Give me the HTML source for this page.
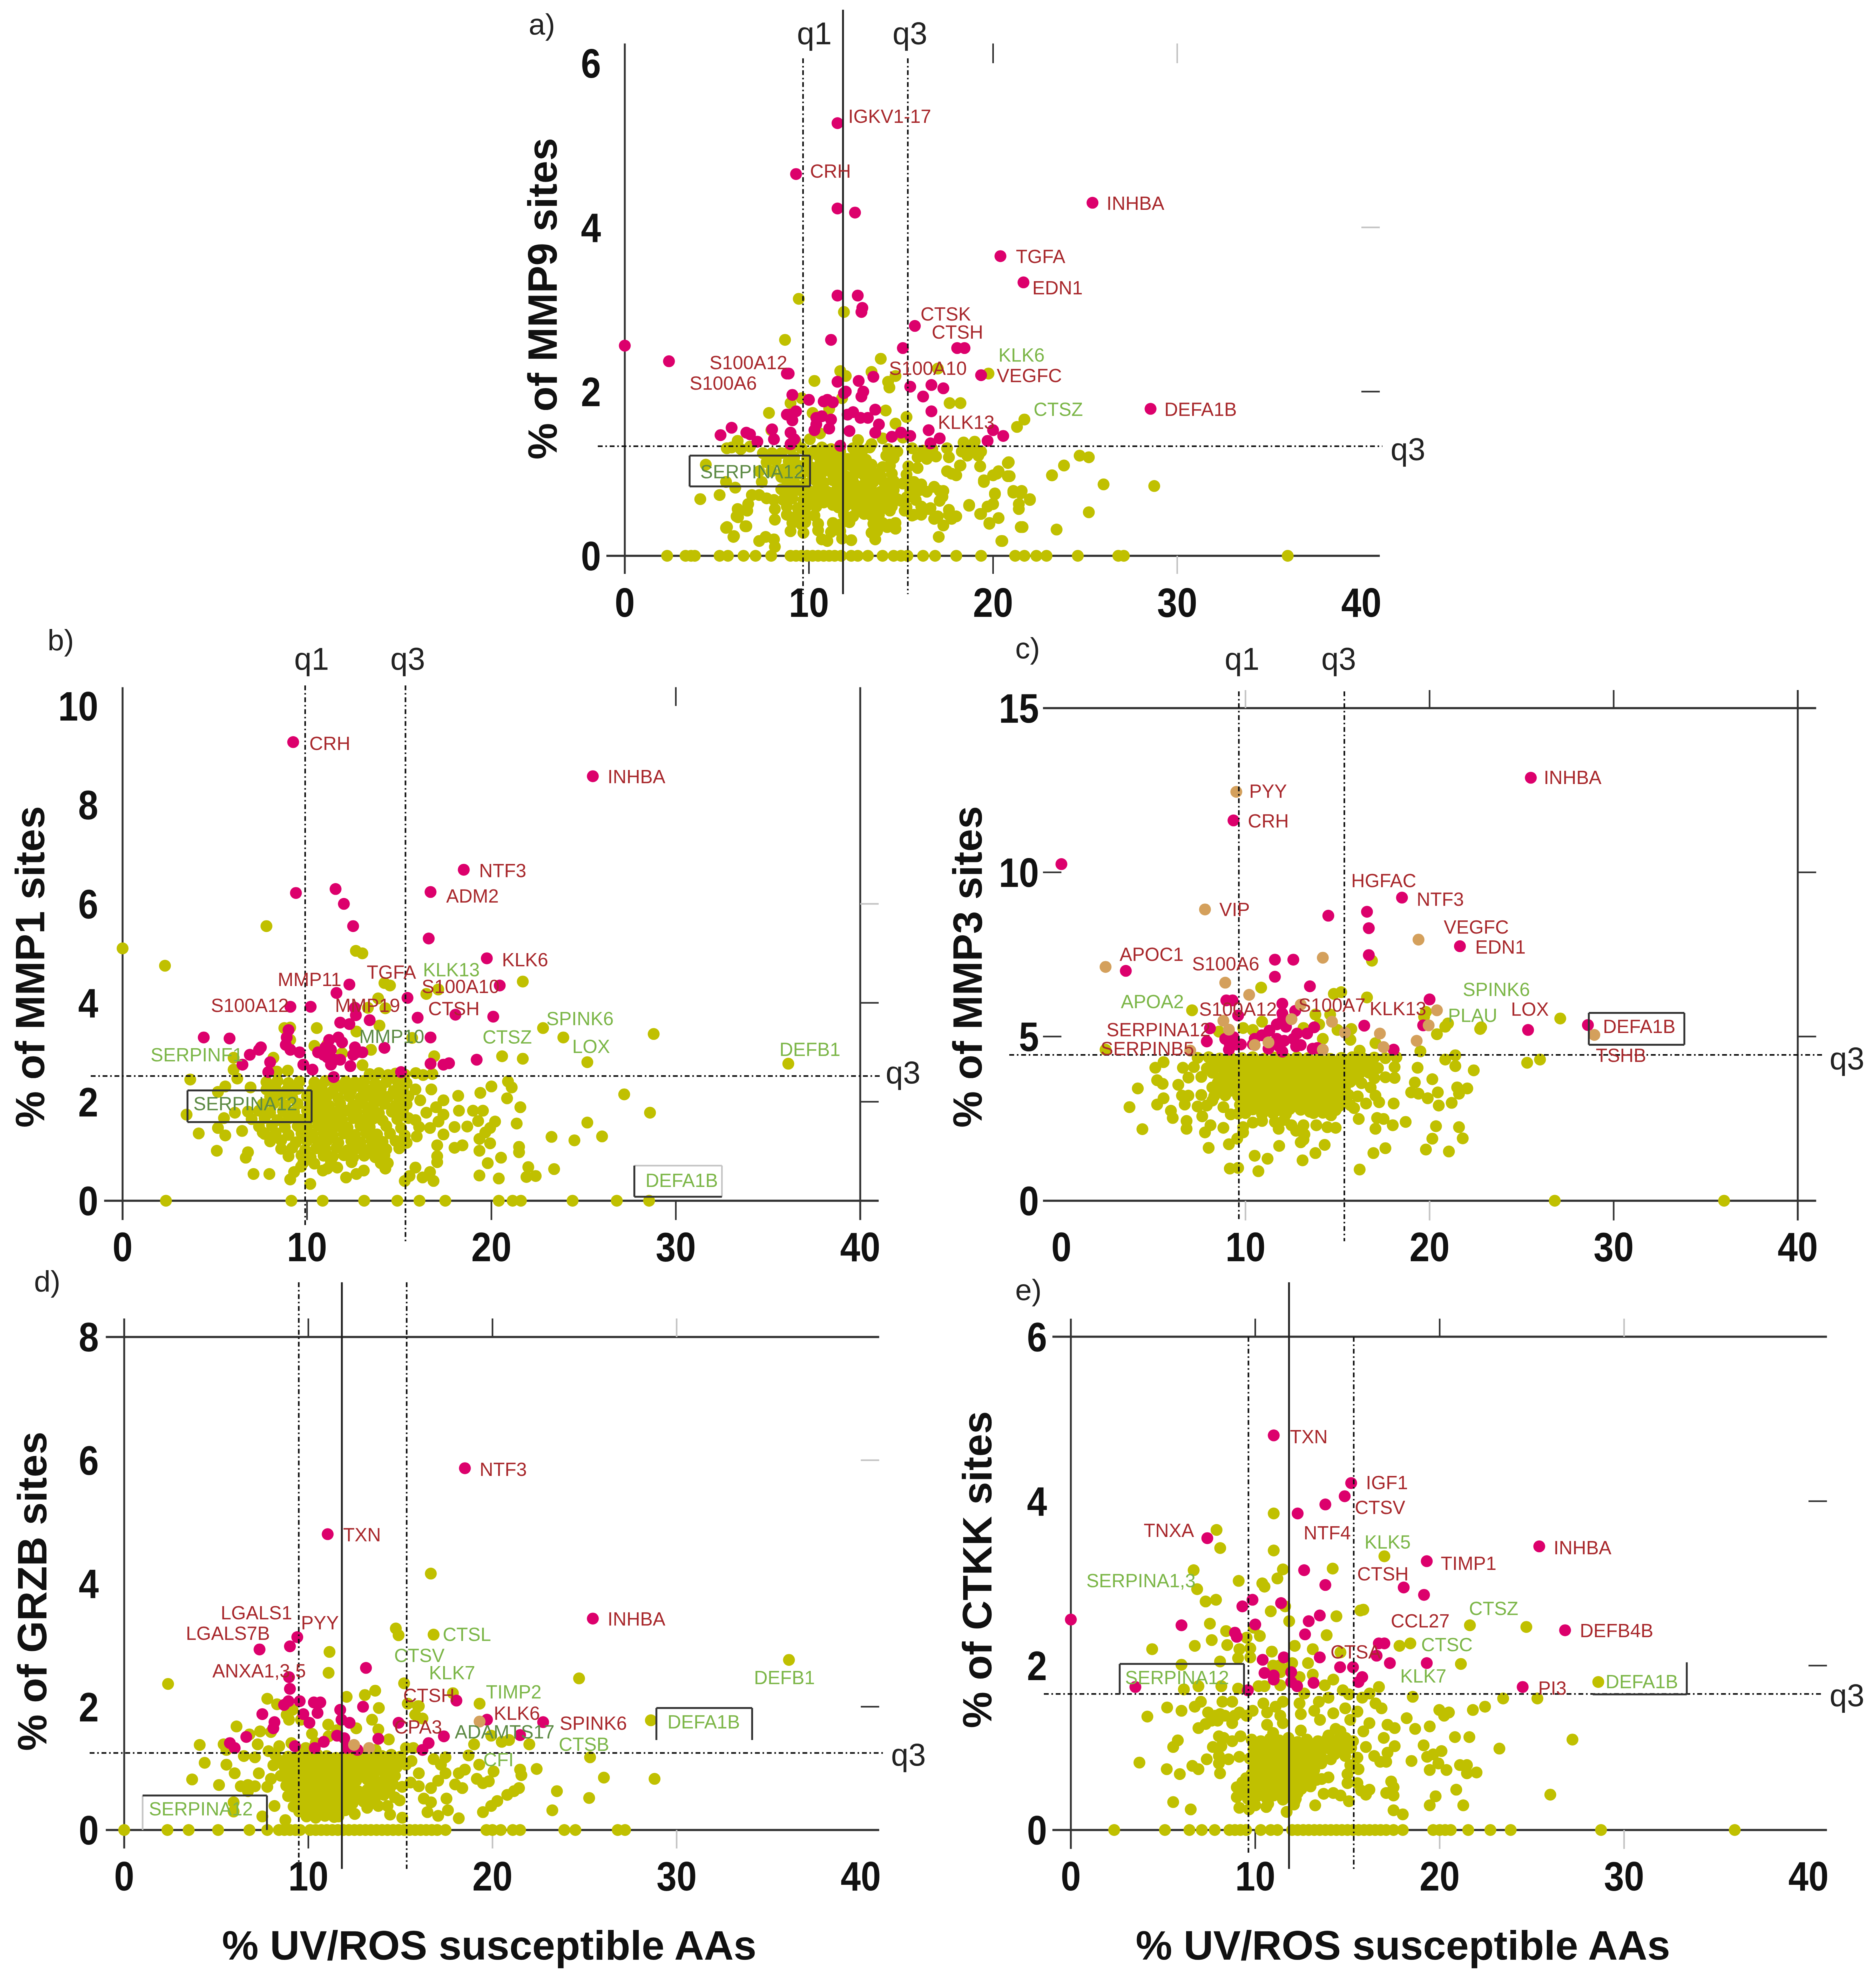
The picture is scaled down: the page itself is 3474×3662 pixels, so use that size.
<!DOCTYPE html>
<html lang="en">
<head>
<meta charset="utf-8">
<title>Protease site scatter panels</title>
<style>
html,body{margin:0;padding:0;background:#fff;width:3474px;height:3662px;overflow:hidden}
svg{display:block;filter:blur(0.9px)}
text{font-family:"Liberation Sans",sans-serif}
.title{font-weight:bold;font-size:76px;fill:#111}
.q{font-size:58px;fill:#222}
.letter{font-size:55px;fill:#222}
</style>
</head>
<body>
<svg id="figure" xmlns="http://www.w3.org/2000/svg" width="3474" height="3662" viewBox="0 0 3474 3662">
  <rect width="3474" height="3662" fill="#fff"/>
  <g id="panels"></g>
  <text class="letter" x="979" y="64">a)</text>
  <text class="letter" x="88" y="1204">b)</text>
  <text class="letter" x="1880" y="1219">c)</text>
  <text class="letter" x="63" y="2391">d)</text>
  <text class="letter" x="1880" y="2407">e)</text>
  <text class="title" transform="translate(1031,553) rotate(-90)" text-anchor="middle">% of MMP9 sites</text>
  <text class="title" transform="translate(82,1790) rotate(-90)" text-anchor="middle">% of MMP1 sites</text>
  <text class="title" transform="translate(1818,1790) rotate(-90)" text-anchor="middle">% of MMP3 sites</text>
  <text class="title" transform="translate(86,2946) rotate(-90)" text-anchor="middle">% of GRZB sites</text>
  <text class="title" transform="translate(1836,2906) rotate(-90)" text-anchor="middle">% of CTKK sites</text>
  <text class="title" x="906" y="3628" text-anchor="middle">% UV/ROS susceptible AAs</text>
  <text class="title" x="2598" y="3628" text-anchor="middle">% UV/ROS susceptible AAs</text>
  <text class="q" x="1508" y="82" text-anchor="middle">q1</text>
  <text class="q" x="1685" y="82" text-anchor="middle">q3</text>
  <text class="q" x="2575" y="852">q3</text>
  <text class="q" x="577" y="1240" text-anchor="middle">q1</text>
  <text class="q" x="755" y="1240" text-anchor="middle">q3</text>
  <text class="q" x="1640" y="2006">q3</text>
  <text class="q" x="2300" y="1240" text-anchor="middle">q1</text>
  <text class="q" x="2479" y="1240" text-anchor="middle">q3</text>
  <text class="q" x="3388" y="1980">q3</text>
  <text class="q" x="1650" y="3269">q3</text>
  <text class="q" x="3388" y="3159">q3</text>
</svg>
<script>
const xTickLabels = [0,10,20,30,40];
const aYTickLabels = [0,2,4,6];
const bYTickLabels = [0,2,4,6,8,10];
const cYTickLabels = [0,5,10,15];
const dYTickLabels = [0,2,4,6,8];
const eYTickLabels = [0,2,4,6];

const aZeroX = [2.3,3.3,3.6,3.8,5.15,5.6,6.45,7.1,7.95,9,9.3,9.6,9.9,10.2,10.5,10.8,11.1,11.4,11.75,12.3,12.65,13.2,14,14.6,15,15.35,16.2,16.85,18,19.35,21.2,21.7,22.35,22.9,24.6,26.8,27.1,36];
const bZeroX = [2.35,9.15,10.85,13.1,14.9,16.1,17.5,20.4,21.15,21.6,24.4,26.8,28.55];
const cZeroX = [26.8,36];
const dZeroX = [0,2.35,3.5,5.1,6.8,7.77,8.4,8.7,9,9.3,9.55,10.1,10.4,10.7,11,11.3,11.6,11.9,12.2,12.5,12.8,13.1,13.4,13.7,14,14.3,14.6,14.9,15.2,15.5,15.8,16.1,16.4,16.7,17,17.45,19.67,20,20.45,21.1,21.5,23.9,24.5,26.8,27.2];
const eZeroX = [2.35,5.1,6.43,7.1,7.8,8.6,8.9,9.2,9.5,10.3,10.84,11.2,12,12.3,12.6,12.9,13.2,13.5,13.8,14.1,14.4,14.7,15,15.3,15.6,15.9,16.2,16.5,16.8,17.1,17.5,18,19.65,20,20.3,20.6,21.55,22.75,23.85,28.75,36];

const aPink = [[0,2.56],[2.4,2.37],[11.55,5.27],[9.3,4.65],[11.55,4.23],[12.5,4.18],[25.4,4.3],[20.4,3.65],[21.65,3.33],[11.55,3.17],[12.65,3.17],[12.9,3.02],[12.85,2.97],[11.2,2.63],[15.75,2.8],[15.1,2.53],[18.05,2.53],[18.45,2.53],[19.35,2.2],[28.55,1.79],[8.9,2.22],[8.8,2.22],[13.5,2.18],[11.55,2.12],[12.7,2.13],[15.5,2.06],[16.65,2.08],[17.3,2.04],[12,2],[11.9,1.98],[12.95,2],[12.85,1.94],[16.2,1.94],[9.1,1.96],[10,1.9],[11,1.9],[10.8,1.88],[11.3,1.87],[16.65,1.76],[9,1.72],[8.8,1.72],[9.1,1.65],[9.3,1.76],[10.7,1.7],[10.4,1.68],[11.2,1.66],[10.4,1.6],[12.1,1.72],[12.4,1.75],[12.8,1.68],[13.2,1.68],[13.6,1.78],[13.8,1.6],[10.3,1.53],[11.1,1.55],[12.2,1.52],[13.6,1.5],[16.5,1.53],[20,1.53],[20.55,1.46],[5.2,1.47],[5.8,1.56],[6.6,1.5],[6.8,1.48],[7.2,1.39],[8,1.54],[8.1,1.42],[9,1.5],[9.2,1.42],[9,1.36],[14.5,1.45],[15,1.5],[15.5,1.46],[16.6,1.37],[17.1,1.43],[19.7,1.4],[11.7,1.34]];
const aYellow = [[9.45,3.13],[11.9,2.97],[8.7,2.63],[13.9,2.4],[17,2.28],[19.75,2.22],[11.7,2.25],[12,2.19],[13.4,2.24],[14.3,2.12],[14.7,2.19],[14.37,2.05],[10.3,2.13],[17.64,1.86],[18.23,1.86],[9.6,1.92],[11.8,1.92],[9,1.86],[7.83,1.74],[10.2,1.74],[11.1,1.79],[14.17,1.77],[15.3,1.69],[14.7,1.61],[21.7,1.66],[21.3,1.57],[7.96,1.53],[10.6,1.49],[10.05,1.42],[9.27,1.4],[14,1.43],[15.1,1.44],[12.67,1.41],[13.4,1.36],[18.4,1.38],[19,1.39],[5.54,1.31],[6.13,1.4],[5.8,1.32],[6.8,1.33],
[25.2,1.2],[24.7,1.22],[23.85,1.1],[23.2,.98],[26,.87],[28.75,.85],[20.8,1.13],[20.8,.97],[20.2,1],[19.5,.9],[25.2,.53],[23.45,.32],[20.5,.18],[21.5,.35],[22,.68],[21.1,.77],[21.5,.76],[21.4,.57],[20.1,.75],[20,.63],[19.3,.51],[19.8,.39],[20.3,.46],[18.7,.62],[18.2,1.1],[17.5,1.03],[17.75,1],[19.3,1.09],[19.2,1.22],[19.35,1.27],[18.55,1.29],[17.05,.23],[17.3,.37],[17.75,.45],[17.3,.79],[16.8,.84],[17.1,.67],[16.5,.57],[16.8,.45],[15.7,.5],[15.2,.55],[15,.67],[14.4,.55],[14.7,.33],[14.25,.35],[4.1,.69],[5.15,.74],[5.5,.34],[5.9,.23],[6.55,.36],[6.15,.47],[7.3,.18],[7.65,.23],[8.15,.11],[8.1,.2],[4.4,1.11],[5.5,.9],[6,.83],[6.9,.74],[7.3,.74],[6.7,.63],[6.13,.57],[6.07,.48],[6.65,.55],[7.7,.7],[8.1,.68],[8.15,.57],[8.15,.44],[6.6,.36],[5.55,.35],[5.93,.24],
[8.2,1.16],[7.7,1.14],[7.3,1.03],[7.96,1.03],[8.5,.96],[7.44,.9],[8.5,.81],[8.75,.76],
[9,1.3],[9.6,1.31],[10.3,1.28],[10.7,1.32],[11.2,1.3],[11.7,1.27],[12.4,1.31],[12.9,1.28],[13.3,1.32],[14.3,1.3],[14.8,1.27],[15.6,1.31],[16.2,1.28],[16.7,1.3],[17.5,1.31],[18.3,1.27],[18.9,1.3],
[9.2,1.2],[9.9,1.18],[10.5,1.22],[11,1.19],[11.5,1.21],[12.1,1.18],[12.6,1.2],[13.1,1.17],[14.2,1.22],[14.6,1.19],[15.9,1.2],[16.4,1.18],[16.9,1.21],[17.6,1.2],[18.6,1.22],
[9.4,1.1],[10.1,1.08],[10.6,1.12],[11.1,1.09],[11.4,1.11],[11.8,1.07],[12.3,1.1],[12.8,1.08],[13.4,1.11],[14,1.08],[14.4,1.1],[15.4,1.09],[15.9,1.07],[18.23,1.1],[19.3,1.09],[20.85,1.14],
[9.6,1],[10.2,.98],[10.7,1.01],[11.3,.99],[11.6,1.02],[12,.97],[12.5,1],[13,.98],[13.5,1.01],[13.9,.97],[14.5,1],[15.3,.99],[18,.98],[20.3,1.03],[20,.98],[20.9,.97],[23.2,.98],
[9.2,.9],[9.8,.88],[10.4,.91],[10.8,.89],[11.3,.92],[11.9,.88],[12.4,.9],[13,.87],[13.5,.9],[14.1,.89],[14.6,.91],[15.1,.88],[15.7,.9],[16.1,.87],[19.5,.92],
[9.5,.8],[10,.79],[10.5,.82],[11,.78],[11.5,.8],[12,.78],[12.3,.81],[12.9,.79],[13.4,.8],[13.9,.78],[14.3,.81],[15.5,.79],[16,.8],[16.4,.78],[17.1,.79],[17.25,.72],[20.1,.76],[21.1,.79],[21.55,.79],[22,.69],[21.4,.63],
[9.1,.7],[9.7,.68],[10.2,.71],[10.6,.69],[11.1,.7],[11.6,.68],[12.2,.71],[12.7,.69],[13.2,.7],[13.7,.68],[14.3,.7],[14.8,.69],[15.3,.71],[15.8,.68],[18.7,.61],[20,.63],[19.7,.6],
[8.8,.6],[9.4,.58],[9.9,.61],[10.4,.6],[11.6,.59],[12,.61],[12.6,.58],[13.1,.6],[13.5,.61],[14,.58],[14.5,.6],[15.3,.59],[16.1,.6],[16.6,.58],[17.6,.56],
[8.8,.5],[9.3,.48],[9.8,.51],[10.3,.49],[11.9,.5],[12.4,.48],[13,.51],[13.4,.49],[13.8,.5],[15.6,.49],[16.1,.5],[17,.48],[17.6,.5],[18,.48],[19.35,.51],
[9.1,.4],[9.6,.38],[9.8,.41],[10.5,.39],[11.3,.4],[11.7,.38],[12.2,.41],[13.5,.39],[14,.4],[14.4,.38],[14.7,.4],[19.8,.4],[9,.3],[9.7,.28],[10.5,.31],[11.2,.29],[11.7,.3],[13.4,.28],[13.7,.3],[21.6,.35],[10.7,.2],[11,.18],[11.8,.21],[12.3,.19],[13.6,.2],[20.45,.18]];
const aYellowDense = [[8.5,1.25],[8.9,1.15],[8.6,1.05],[9,1.02],[8.8,.92],[9,.8],[8.6,.68],[10.1,1.25],[10.9,1.25],[11.5,1.14],[11.9,1.14],[12.4,1.19],[11.3,1.05],[11.7,.96],[12.2,.95],[12.7,1.05],[13.3,1.05],[13.7,.95],[13.2,.85],[12.6,.85],[11.7,.85],[10.7,.75],[11.3,.75],[11.8,.74],[12.4,.76],[13,.75],[13.6,.75],[14.1,.75],[14.6,.8],[9.8,.63],[10.3,.65],[10.8,.65],[11.3,.62],[12.3,.64],[12.8,.62],[13.3,.65],[13.8,.62],[9.4,.85],[9.8,1.05],[10.4,1.05],[7.5,1.25],[8,1.25],[6.3,1.3]];

const bPink = [[9.25,9.27],[25.5,8.58],[18.5,6.69],[9.4,6.22],[11.55,6.3],[12,6],[16.7,6.24],[12.5,5.55],[16.6,5.3],[19.75,4.9],[20.45,4.35],[12.3,4.37],[11.6,4.2],[15.45,4.1],[9.1,3.92],[10.2,3.92],[16,3.7],[12.6,3.9],[12.65,3.75],[18.05,3.76],[20.1,3.72],[13.4,3.65],[11.8,3.6],[12.3,3.57],[4.4,3.3],[5.8,3.28],[14.2,3.09],[16.7,3.3],[9,3.45],[8.9,3.3],[8.85,3.15],[9.1,3.05],[9.6,3],[7.5,3.1],[7.4,3.05],[6.9,2.95],[6.5,2.75],[8,2.8],[7.9,2.6],[9.8,2.75],[11.2,3.25],[11.7,3.3],[11.9,3.2],[11.3,3.05],[12.6,3.1],[12.7,3],[10.6,3],[11,3.1],[11.1,2.9],[11.5,2.85],[11.8,2.85],[12.35,2.72],[12.5,2.95],[13,3],[11.3,2.75],[10.9,2.95],[11.45,2.5],[16.7,2.77],[17.4,2.75],[17.7,2.78],[19.2,2.85],[15.1,2.6],[10.3,2.65]];
const bYellow = [[0,5.1],[2.3,4.75],[7.8,5.55],[12.65,5.05],[13,5],[21.7,4.43],[14.2,4.4],[14.5,4.35],[16.47,4.18],[17.12,4.27],[13.86,4.09],[14.25,3.89],[13.3,3.9],[22.8,3.49],[23.9,3.3],[28.8,3.37],[25.2,2.8],[36.1,2.77],[20.58,2.92],[21.7,2.87],[16.9,2.92],[15.7,3.29],[8.77,3.49],[9.09,3.5],[9.09,3.25],[10.53,3.49],[10.4,3.13],[11.1,3.16],[11.9,2.98],[12.68,3.42],[13.93,3.54],[13.47,3.05],[13.01,2.74],[6.02,2.89],[6.02,2.65],[6.22,2.47],[3.67,2.45],[8.18,2.89],[8.37,2.61],[8.96,2.63],[27.2,2.15],[28.6,1.78],[25.2,1.58],[26,1.3],[24.5,1.22],[23.26,1.29],[22,.68],[23.4,.64],[22.4,.5],[21.9,.48],
[3.47,1.74],[4.13,1.36],[5.11,1.01],[6.8,.98],[6.68,.87],[7.1,.54],[7.96,.54],[9.09,.43],[9.3,.58],[9.68,.69],[10.18,.34],[10.86,.61],[11.1,.65],[11.64,.67],[12.12,.47],[12.68,.54],[13.08,.61],[12.42,.78],[14.38,.76],[14.25,.65],[15.3,.4],[15.56,.5],[15.88,.67],[16.27,.47],[16.67,.58],[16.86,.4],[5.17,1.47],[5.57,1.32],[6.48,1.41],[7.6,1.38],[5.5,1.67],[6.09,1.78],[5.17,2.2],[5.57,2.31],[6.94,2.29],
[20.9,2.41],[21.1,2.29],[20,2.31],[19.4,2.18],[18.2,2.12],[20.85,2.07],[21.57,1.89],[21.37,1.56],[19.28,1.61],[20.2,1.6],[19.93,1.47],[19.67,1.38],[19.35,1.25],[19.93,1.16],[19.35,1.01],[21.5,1.09],[21.5,.98],[20.52,.87],[19.8,.76],[19.35,.51],[20.4,.45],[18.43,1.12],[18,1.07],[17.06,1.12],[17.06,.9],[17.06,.78],[18,1.49],[18.69,1.5],[17.4,1.74],[18.24,1.82],[19,1.82],[19.54,1.82],[16.67,1.47],[17.13,1.6],[17.4,1.34],[17.4,2.03],[17,1.89],[16.74,2.25],[15.88,2.25],[16.14,2.03],[16.47,1.78],[15.88,1.63],[15.95,1.3],[16.08,1.49],
[13.4,2.56],[13.9,2.58],[14.4,2.54],[14.8,2.57],[15.3,2.55],[15.9,2.58],[16.3,2.54],[16.8,2.56],
[7.8,2.4],[8.4,2.42],[9,2.38],[9.6,2.41],[10.4,2.39],[11,2.42],[11.5,2.38],[12.1,2.41],[12.6,2.39],[13.1,2.42],[13.7,2.37],[14.3,2.4],[14.9,2.42],[15.4,2.38],
[7.8,2.25],[8.3,2.27],[8.9,2.23],[9.5,2.26],[10.3,2.24],[10.8,2.27],[11.4,2.22],[12,2.26],[12.4,2.23],[13,2.27],[13.5,2.24],[14,2.26],[14.7,2.22],[15.2,2.25],
[8,2.1],[8.6,2.12],[9.2,2.08],[10,2.11],[10.6,2.09],[11.1,2.12],[11.7,2.07],[12.3,2.11],[12.9,2.08],[13.4,2.12],[13.9,2.09],[14.4,2.1],[15,2.07],[15.5,2.11],
[7.6,1.95],[8.2,1.97],[8.8,1.93],[9.5,1.96],[10.2,1.94],[10.7,1.97],[11.2,1.92],[11.8,1.96],[12.5,1.93],[13,1.97],[13.6,1.94],[14.2,1.96],[14.8,1.92],[15.4,1.95],
[6.8,1.8],[7.4,1.82],[8,1.78],[8.7,1.81],[9.3,1.79],[10,1.82],[10.5,1.77],[11,1.81],[11.6,1.78],[12.1,1.82],[12.7,1.79],[13.3,1.81],[13.9,1.77],[14.6,1.8],[15.2,1.82],
[7,1.65],[7.7,1.67],[8.4,1.63],[9,1.66],[9.6,1.64],[10.2,1.67],[10.8,1.62],[11.3,1.66],[11.9,1.63],[12.5,1.67],[13.1,1.64],[13.6,1.66],[14.1,1.62],[14.9,1.65],[15.5,1.67],
[7.4,1.5],[8.1,1.52],[8.8,1.48],[9.5,1.51],[10,1.49],[10.6,1.52],[11.2,1.47],[11.7,1.51],[12.2,1.48],[12.9,1.52],[13.4,1.49],[14.3,1.51],[15.1,1.47],
[7.7,1.35],[8.3,1.37],[9,1.33],[9.7,1.36],[10.3,1.34],[10.9,1.37],[11.4,1.32],[12,1.36],[12.6,1.33],[13.2,1.37],[13.8,1.34],[14.5,1.36],[15.3,1.32],
[8,1.2],[8.6,1.22],[9.4,1.18],[10,1.21],[10.6,1.19],[11.1,1.22],[11.7,1.17],[12.4,1.21],[12.9,1.18],[13.5,1.22],[14.1,1.19],[14.8,1.21],[15.4,1.17],
[8.6,1.05],[9.2,1.07],[9.9,1.03],[10.5,1.06],[11,1.04],[11.6,1.07],[12.2,1.02],[12.7,1.06],[13.3,1.03],[13.8,1.07],[14.3,1.04],[15,1.06],
[9,.9],[9.7,.92],[10.2,.88],[10.9,.91],[11.4,.89],[12,.92],[12.5,.87],[13.1,.91],[13.7,.88],[14.2,.92],[9.8,.77],[10.4,.75],[11.3,.78],[14,.76]];

const cPink = [[25.5,12.88],[9.35,11.58],[0,10.25],[14.5,8.68],[16.6,8.8],[16.7,8.3],[18.5,9.23],[21.65,7.75],[16.7,7.48],[11.6,7.34],[12.6,7.34],[3.5,7],[11.6,6.82],[13.5,6.53],[20,6.13],[16.45,5.33],[19.65,5.34],[25.35,5.2],[28.6,5.35],[8.96,6.1],[9.3,6.1],[9.6,5.64],[8.07,5.25],[7.9,4.85],[8.9,4.93],[9.35,4.98],[9.15,4.76],[9.5,4.76],[9.1,4.6],[9.75,4.76],[12,6],[12.7,5.78],[12,5.7],[12,5.48],[11.7,5.37],[12.2,5.3],[11.3,5.18],[13.73,5.28],[13.35,5.09],[12.8,5.09],[10.9,5.04],[10.5,4.93],[11.7,4.93],[12.1,4.87],[12.6,4.93],[10.4,4.76],[11.83,4.7],[11.25,4.63],[12,4.54],[12.75,4.7],[13,4.74],[13.65,4.63],[13.9,4.65],[18.05,4.6]];
const cTan = [[9.5,12.45],[7.8,8.87],[19.4,7.95],[14.2,7.4],[2.4,7.12],[8.9,6.64],[10.2,6.27],[13,5.97],[12.5,5.53],[8.8,5.48],[9.1,5.21],[14.7,5.45],[15.4,5.12],[17.3,5.09],[20.4,5.8],[19.95,5.34],[19.3,4.87],[17.5,4.68],[14.2,4.6],[11.25,4.82],[10.5,4.74],[7,4.57],[28.95,5.05]];
const cYellow = [[7.1,5.8],[10.85,6.49],[16.87,7.31],[16.6,6.19],[14.8,6.3],[15.2,6.35],[13.8,5.67],[14.6,5.67],[13.15,5.26],[14,5.37],[15,5.2],[15.75,5.23],[15.7,4.9],[14.2,4.93],[17.06,4.8],[16.2,4.57],[10.9,5.45],[9.87,5.26],[10.4,5.2],[8.56,5.15],[19.7,5.6],[20.85,5.3],[22.75,5.23],[20.4,5.07],[19.5,4.55],[27.1,5.55],[22.8,5.28],[21,5.4],[19.8,5.75],[25.3,4.2],[26,4.3],[2.4,4.6],
[21.4,4.43],[20.85,4.3],[21.4,4.1],[22.4,3.97],[19.35,4.05],[20.15,3.7],[19.2,3.6],[19,3.3],[19.4,3.26],[19.9,3.12],[20.45,3.3],[21.5,3.45],[22.05,3.42],[21.6,3.26],[21.2,2.98],[20.5,2.9],[18.05,2.96],[18.7,2.4],[18,2.3],[20.35,2.27],[21.6,2.24],[21.8,1.9],[20.15,1.89],[19.8,1.56],[21.05,1.5],[17.6,1.6],[16.95,1.45],[16.2,.95],[14.3,1.7],[13.8,1.45],[13.1,1.23],[13,1.78],[11.83,1.67],[11.2,1.28],[10.5,1.37],[10.7,.9],[9.15,.98],[9.6,1],[9.1,1.72],[8,1.61],[9.55,1.89],[9.87,2.08],[4.4,2.18],[3.7,2.85],[4.15,3.42],[5.2,2.93],[5.55,3.12],[5.95,2.74],[6.05,2.52],[6.8,2.43],[6.8,2.19],[7.8,2.08],[8.1,2.3],[8.8,2.22],[7.65,2.57],[7.4,2.87],[6.7,2.93],[8.8,2.85],[9.2,2.63],[5.1,4.05],[5.55,4.22],[5.2,3.67],[5.5,3.56],[6.35,3.53],[6.55,3.2],
[9.87,2.24],[10.4,2.38],[10.9,2.43],[11.6,2.4],[11.8,2.19],[12.1,2.46],[12.5,2.3],[12.75,2.13],[13.15,2.3],[13.2,2.02],[13.15,1.86],[13.85,2.3],[14.45,2.24],[14.9,2.22],[14.2,2.68],[13.5,2.71],[14.65,2.6],[16.15,2.49],[17.06,2.19],[17.15,2.52],[17.5,2.49],[16.55,2.96],[17.06,3.2],[17.26,3],[15.9,2.82],
[7.4,4.35],[8,4.37],[8.6,4.33],[9.2,4.36],[9.8,4.34],[10.4,4.37],[11,4.32],[11.6,4.36],[12.2,4.33],[12.8,4.37],[13.4,4.34],[14,4.36],[14.6,4.32],[15.2,4.35],[15.8,4.37],[16.4,4.33],[17,4.36],[17.6,4.34],[18.2,4.37],
[6.6,4.05],[7.2,4.07],[7.9,4.03],[8.7,4.06],[9.3,4.04],[9.9,4.07],[10.5,4.02],[11.1,4.06],[11.7,4.03],[12.3,4.07],[12.9,4.04],[13.5,4.06],[14.1,4.02],[14.7,4.05],[15.3,4.07],[15.9,4.03],[16.5,4.06],[17.2,4.04],[18.1,4.07],
[6.9,3.75],[7.6,3.77],[8.6,3.73],[9.2,3.76],[9.8,3.74],[10.4,3.77],[11,3.72],[11.6,3.76],[12.2,3.73],[12.8,3.77],[13.4,3.74],[14,3.76],[14.6,3.72],[15.2,3.75],[15.8,3.77],[17,3.73],[17.6,3.76],[18.1,3.74],
[8.2,3.45],[8.8,3.47],[9.4,3.43],[10,3.46],[10.6,3.44],[11.2,3.47],[11.8,3.42],[12.4,3.46],[13,3.43],[13.6,3.47],[14.2,3.44],[14.8,3.46],[15.4,3.42],[16.8,3.45],
[6.9,3.2],[7.6,3.22],[8.3,3.18],[8.9,3.21],[9.6,3.19],[10.2,3.22],[10.8,3.17],[11.4,3.21],[12,3.18],[12.6,3.22],[13.2,3.19],[13.8,3.21],[14.4,3.17],[15,3.2],[15.6,3.22],[16.1,3.18],
[7.9,2.9],[9.7,2.92],[10.2,2.88],[10.8,2.91],[11.4,2.89],[12,2.92],[12.6,2.87],[13.2,2.91],[13.9,2.88],[14.5,2.92],[15.1,2.89],[15.7,2.91],
[9.6,2.65],[10,2.67],[10.9,2.63],[11.5,2.66],[12.2,2.64],[13.7,2.67],[14.6,2.63]];
const cYellowDense = [[8.3,4.2],[8.9,4.22],[9.5,4.18],[10.1,4.21],[10.7,4.19],[11.3,4.22],[11.9,4.17],[12.5,4.2],[13.1,4.22],[13.7,4.18],[14.3,4.21],[14.9,4.19],[15.5,4.22],[16.1,4.18],[16.8,4.2],
[8.2,3.9],[9,3.92],[9.6,3.88],[10.2,3.91],[10.8,3.89],[11.4,3.92],[12,3.87],[12.6,3.9],[13.2,3.92],[13.8,3.88],[14.4,3.91],[15,3.89],[15.6,3.92],[16.2,3.88],[16.7,3.9],
[8.5,3.6],[9.1,3.62],[9.7,3.58],[10.3,3.61],[10.9,3.59],[11.5,3.62],[12.1,3.57],[12.7,3.6],[13.3,3.62],[13.9,3.58],[14.5,3.61],[15.1,3.59],[15.7,3.62],[16.3,3.58],
[8.6,3.33],[9.2,3.35],[9.9,3.31],[10.5,3.34],[11.1,3.32],[11.7,3.35],[12.3,3.3],[12.9,3.33],[13.5,3.35],[14.1,3.31],[14.7,3.34],[15.3,3.32],
[8.2,3.05],[9.9,3.07],[10.5,3.03],[11.1,3.06],[11.7,3.04],[12.3,3.07],[12.9,3.02],[13.5,3.05],[14.2,3.07],[14.8,3.03],[15.4,3.06],
[10.4,2.78],[11.2,2.8],[11.8,2.76],[12.4,2.79],[13,2.77],[13.9,2.8],[14.9,2.76]];

const dPink = [[18.5,5.87],[11.05,4.8],[25.45,3.43],[9.4,3.13],[9,2.98],[7.35,2.93],[13.13,2.63],[8.95,2.48],[9,2.29],[9.53,2.09],[8.68,2.03],[8.92,2.09],[10.3,2.07],[10.65,2.07],[11.73,1.95],[12.97,2],[9.73,1.88],[10.5,1.9],[7.5,1.88],[10.06,1.74],[11.8,1.79],[12.24,1.74],[8.16,1.75],[8.1,1.65],[6.63,1.51],[11.56,1.53],[11.95,1.49],[10.84,1.43],[13.8,1.48],[5.74,1.41],[6,1.33],[9.27,1.36],[10.35,1.33],[12.1,1.33],[12.67,1.3],[16.53,1.41],[16.2,1.3],[17.36,1.52],[14.9,1.74],[18.04,2.1],[19.7,1.79],[21.5,1.54],[22.75,1.75]];
const dTan = [[19.3,1.76],[12.48,1.38],[13.3,1.33]];
const dYellow = [[16.65,4.16],[14.75,3.27],[14.9,3.16],[16.8,3.17],[11.15,2.89],[11.1,2.55],[2.38,2.37],[15.2,2.38],[24.7,2.46],[36.1,2.76],[28.6,1.78],[28.8,.83],[19.3,2.05],[17.85,2.22],[15.95,2.01],[15.4,2.05],[25.3,1.18],[26.05,.85],[25.25,.52],[23.25,.32],[23.5,.63],
[7.77,2.13],[8.3,2.04],[9.14,1.95],[8.82,1.87],[8.95,1.79],[9.6,1.79],[6.1,1.68],[7.38,1.6],[7.97,1.59],[6.8,1.55],[4.1,1.38],[7.25,1.39],[10.2,1.56],[11.08,1.71],[12.08,2.16],[13.07,2.19],[13.63,2.26],[13.83,1.98],[13.46,1.79],[13.8,1.63],[14.37,1.47],[12.6,1.65],[11.1,1.52],[16,2.01],[15.8,1.87],[16.2,1.81],[19.93,1.53],[20.5,1.43],[20.9,1.46],[22,1.39],[19,1.39],[15.3,1.33],[15.7,1.33],[13.65,1.3],[11.56,1.62],[10.4,1.41],[9.86,1.33],[9.08,1.41],[8.42,1.36],[7.84,1.28],[5.55,1.3],[5.4,1.39],
[4.37,1.09],[5.55,1.06],[3.69,.82],[5.15,.73],[6,.92],[7.31,.92],[22.4,.99],[21.5,.98],[21.57,.89],[20.06,.95],[19.28,1.06],[18.7,1.21],[18.5,.98],[18.17,.92],[19.15,.83],[19.8,.79],[19.48,.76],[21.44,.68],[21.17,.63],[20.8,.57],[20.26,.47],[19.93,.39],[19.48,.29],[18.17,.19],[17.5,.51],[17.58,.32],[17.05,.23],[16.47,.29],[16.66,.45],[18.36,.68],[17.97,.74],[17.45,1.18],[16.8,1.15],[17.2,1.06],[17.45,.92],[17.05,.8],[16.66,.68],[16.27,.51],[16,.92],[16,.71],[15.55,.77],[15.6,1.12],[6.72,.73],[6.33,.71],[7.1,.71],[6.72,.63],[7.97,.83],[7.77,.7],[5.94,.45],[8.16,.39],[7.5,.22],[5.94,.3],[8.75,.16],[11.63,.22],[12.52,.26],[14.44,.25],[15.1,.2],[14.3,.39],[14.96,.48],
[6.5,1.2],[7.1,1.18],[8.2,1.22],[8.9,1.19],[9.5,1.21],[10,1.18],[10.5,1.22],[11,1.2],[11.5,1.17],[12,1.21],[12.5,1.19],[13,1.22],[13.5,1.18],[14,1.2],[14.5,1.22],[15,1.19],
[8.1,1.05],[8.7,1.03],[9.3,1.06],[9.8,1.04],[10.3,1.07],[10.8,1.02],[11.3,1.05],[11.8,1.03],[12.3,1.06],[12.8,1.04],[13.3,1.07],[13.8,1.03],[14.3,1.05],[14.8,1.02],[15.3,1.06],
[8.5,.88],[9,.86],[9.5,.89],[10,.87],[10.5,.9],[11,.85],[11.5,.88],[12,.86],[12.5,.89],[13,.87],[13.5,.9],[14.2,.86],[14.7,.88],
[8.8,.72],[9.3,.7],[9.8,.73],[10.3,.71],[10.8,.74],[11.3,.69],[11.8,.72],[12.3,.7],[13.4,.73],[14.1,.71],[14.6,.74],[15.1,.7],
[8.9,.55],[9.5,.53],[10,.56],[10.5,.54],[11,.57],[11.5,.52],[12,.55],[12.5,.53],[13,.56],[13.5,.54],[14.1,.57],[14.7,.53],
[9.2,.38],[9.7,.36],[10.2,.39],[10.7,.37],[11.2,.4],[11.7,.35],[12.2,.38],[13.2,.36],[13.8,.39],[9.9,.22],[10.4,.2],[10.9,.23],[11.4,.21]];
const dYellowDense = [[8.5,1.12],[9,1.14],[9.6,1.1],[10.1,1.13],[10.6,1.11],[11.1,1.14],[11.6,1.09],[12.1,1.12],[12.6,1.14],[13.1,1.1],[13.6,1.13],[14.1,1.11],[14.6,1.14],[15.1,1.1],
[8.8,.96],[9.3,.98],[9.8,.94],[10.3,.97],[10.8,.95],[11.3,.98],[11.8,.93],[12.3,.96],[12.8,.98],[13.3,.94],[13.8,.97],[14.4,.95],
[9.1,.8],[9.6,.82],[10.1,.78],[10.6,.81],[11.1,.79],[11.6,.82],[12.1,.77],[12.6,.8],[13.2,.82],[13.8,.78],[14.4,.81],
[9.1,.63],[9.7,.65],[10.2,.61],[10.7,.64],[11.2,.62],[11.7,.65],[12.2,.6],[12.7,.63],[13.2,.65],[13.8,.61],[14.4,.64],
[9.4,.46],[9.9,.48],[10.4,.44],[10.9,.47],[11.4,.45],[11.9,.48],[12.4,.43],[13,.46],[13.6,.48],
[9.5,.3],[10,.32],[10.5,.28],[11,.31],[11.5,.29],[12,.32]];

const ePink = [[11,4.8],[15.2,4.22],[14.85,4.06],[13.8,3.96],[12.3,3.85],[7.4,3.55],[25.4,3.45],[19.3,3.27],[12.65,3.16],[13.8,2.98],[18.05,2.95],[19.15,2.86],[9.85,2.8],[9.3,2.72],[11.4,2.76],[0,2.56],[6,2.49],[13.5,2.61],[12.9,2.54],[10,2.5],[26.8,2.43],[8.9,2.4],[9,2.35],[12.7,2.38],[16.7,2.27],[17,2.27],[11.55,2.1],[13.5,2.1],[10.4,2.07],[16.58,2.12],[17.3,2.03],[19.3,2.03],[14.6,1.98],[15.3,1.98],[10.5,1.91],[11.95,1.92],[11,1.83],[15.8,1.86],[15.6,1.8],[12.27,1.75],[11.95,1.8],[13.16,1.79],[24.5,1.74],[3.5,1.74],[9.6,1.7],[11,1.88]];
const eYellow = [[7.9,3.65],[8.1,3.43],[11,3.85],[11,3.4],[17,3.33],[14.2,3.18],[6.66,3.16],[11.5,3.17],[6.85,2.93],[7.31,2.78],[7.87,2.8],[9.1,3.03],[10.38,3],[10.5,2.96],[11.2,3.06],[15.7,2.67],[10.84,2.66],[11.62,2.72],[11.84,2.54],[14.4,2.6],[15.86,2.68],[21.64,2.49],[24.7,2.47],[7.54,2.51],[8.42,2.42],[9.92,2.46],[10.25,2.36],[9.53,2.34],[7.64,2.31],[6.72,2.24],[8.48,2.25],[4.41,2.2],[9.14,2.2],[9.73,2.21],[9.73,2.1],[9.07,2.09],[10.9,2.17],[12.14,2.24],[13.12,2.2],[13.87,2.37],[14.62,2.16],[17.82,2.24],[18.41,2.27],[21.15,2.02],[8.09,2.05],[6,2.01],[12.86,2.03],[12,2.03],[10.97,2],[11.3,2],[11.75,1.96],[10.97,1.92],[11.36,1.92],[12.4,1.86],[13.12,1.89],[14.23,1.83],[13.77,1.76],[11.36,1.76],[10.18,1.75],[10.5,1.75],[16.71,1.74],[9.07,1.72],[8.16,1.75],[6.92,1.75],[6.13,1.71],[12.66,1.66],[14.75,1.7],[15.08,1.65],[16.2,1.66],[15.8,1.61],[18.54,1.62],[16.52,1.54],[16.85,1.48],[19.98,1.46],[20.5,1.43],[20.24,1.39],[21.8,1.46],[22.46,1.5],[23.44,1.6],[28.6,1.8],[25.3,1.6],[27.2,1.1],[26,.43],
[5.55,.34],[6.5,.25],[3.72,.82],[5.2,.74],[5.91,.68],[6.59,.78],[6.92,.74],[7.37,.86],[8.03,.9],[8.03,.81],[8.09,.69],[8.55,.86],[9.14,.89],[5.55,1.01],[5.8,1.09],[6.92,1.24],[7.31,1.29],[7.64,1.33],[7.96,1.33],[8.09,1.41],[8.35,1.39],[8.03,1.14],[8.29,1.12],[7.7,1.01],[8.16,1.02],[8.75,1.08],[9.2,1.14],[8.75,1.3],[8.88,1.39],[9.14,1.43],[9.53,1.39],[9.86,1.45],[6.72,1.5],[7.05,1.56],[7.44,1.43],[7.83,1.39],[8.22,1.56],[8.75,1.56],[5.22,1.49],[6,1.45],[4.15,1.38],
[10.44,1.54],[10.64,1.43],[11.1,1.5],[11.5,1.56],[11.36,1.39],[11.5,1.3],[10.64,1.28],[10.97,1.18],[12.4,1.54],[12.47,1.41],[13.2,1.45],[13.45,1.56],[13.97,1.61],[13.51,1.34],[14.23,1.42],[14.88,1.48],[15.54,1.44],[15.15,1.34],[14.36,1.23],[13.97,1.15],[14.62,1.2],[12.47,1.21],[16.19,1.3],[15.86,1.2],[17.17,1.28],[17.56,1.24],[16.97,1.12],[18.21,1.36],[18.67,1.23],[19.46,1.26],[20.83,1.13],[21.61,1.13],[19.13,1.03],[23.24,.99],
[9.8,1.1],[10.3,1.08],[10.8,1.11],[11.3,1.09],[11.8,1.12],[12.3,1.07],[12.8,1.1],[13.4,1.08],[13.9,1.11],[14.4,1.09],[14.9,1.12],[15.3,1.08],
[9.9,.98],[10.4,.96],[10.9,.99],[11.4,.97],[11.9,1],[12.4,.95],[12.9,.98],[13.4,.96],[14,.99],[14.6,.97],[15.2,1],
[9.7,.87],[10.2,.85],[10.7,.88],[11.3,.86],[11.7,.89],[12.2,.84],[12.6,.87],[13.1,.85],[13.6,.88],[14.1,.86],
[9.9,.75],[10.5,.73],[11,.76],[11.4,.74],[11.8,.77],[12.3,.72],[12.7,.75],[13.2,.73],
[9.5,.63],[10,.61],[10.5,.64],[11,.62],[11.4,.65],[11.8,.6],[12.2,.63],[12.7,.61],[13.2,.64],[13.6,.62],
[9,.52],[9.5,.5],[10.1,.53],[10.6,.51],[11.1,.54],[11.6,.49],[12,.52],[12.5,.5],[13,.53],
[9,.4],[9.6,.38],[10.1,.41],[10.6,.39],[11,.42],[11.5,.37],[11.9,.4],[12.2,.38],[10,.3],[10.6,.28],[12.1,.31],
[13.97,.64],[14.88,.9],[15.54,.88],[15.15,.79],[15.6,.74],[15,.68],[15,.57],[15.54,.57],[15.73,.48],[16.19,.49],[16,.43],[16.45,.9],[16.78,.83],[17.1,.83],[17.17,.94],[17.56,1.02],[16,1.01],[18.47,.84],[19.32,.89],[19.65,.92],[20.1,.96],[19.93,.81],[19.46,.73],[20.37,.73],[21.1,.79],[21.48,.79],[21.48,.69],[22,.7],[17.37,.59],[17.5,.52],[17.1,.45],[17.5,.42],[20.9,.49],[19.78,.41],[19.46,.3],[21.28,.3],[17.5,.24],[18,.19],[13.71,.44],[14.23,.45],[14.62,.42],[15.08,.35],[13.25,.3],[12.14,.35],[11.7,.22],[10.7,.32],[9.14,.27],[9.66,.25],[12.53,.52],[13.32,.61],[13.58,.81],[12.8,.63]];
const eYellowDense = [[10,1.03],[10.6,1.04],[11.1,1.02],[11.6,1.05],[12.1,1.03],[12.6,1.04],[13.1,1.02],[13.6,1.04],[14.2,1.03],[14.8,1.05],
[10,.92],[10.5,.93],[11,.91],[11.5,.94],[12,.92],[12.5,.93],[13,.91],[13.5,.93],[14.3,.92],
[10.2,.8],[10.7,.81],[11.2,.79],[11.6,.82],[12,.8],[12.5,.81],[13,.79],
[9.8,.68],[10.3,.69],[10.8,.67],[11.2,.7],[11.6,.68],[12,.69],[12.5,.67],
[9.3,.58],[9.8,.59],[10.3,.57],[10.8,.6],[11.3,.58],[11.7,.59],[12.3,.57],[12.8,.58],
[9.3,.46],[9.8,.47],[10.3,.45],[10.8,.48],[11.3,.46],[11.8,.47],[12.3,.45]];

const aRedLabels = [["IGKV1-17",12.13,5.36],["CRH",10.06,4.69],["INHBA",26.16,4.3],["TGFA",21.24,3.65],["EDN1",22.13,3.27],["CTSK",16.06,2.95],["CTSH",16.67,2.73],["VEGFC",20.2,2.2],["S100A12",4.6,2.36],["S100A6",3.52,2.11],["S100A10",14.35,2.29],["DEFA1B",29.3,1.79],["KLK13",17,1.63]];
const aGreenLabels = [["KLK6",20.29,2.45],["CTSZ",22.2,1.79]];
const aDarkLabels = [["SERPINA12",4.1,1.03]];
const bRedLabels = [["CRH",10.13,9.25],["INHBA",26.3,8.58],["NTF3",19.33,6.68],["ADM2",17.55,6.17],["KLK6",20.57,4.88],["TGFA",13.24,4.63],["MMP11",8.41,4.48],["S100A10",16.22,4.34],["S100A12",4.79,3.96],["MMP19",11.52,3.96],["CTSH",16.57,3.89]];
const bGreenLabels = [["KLK13",16.29,4.68],["SPINK6",22.98,3.69],["CTSZ",19.52,3.32],["LOX",24.38,3.13],["SERPINF1",1.52,2.96],["DEFB1",35.62,3.07],["DEFA1B",28.35,.42]];
const bDarkLabels = [["MMP10",12.83,3.33],["SERPINA12",3.84,1.97]];
const cRedLabels = [["INHBA",26.2,12.9],["PYY",10.2,12.48],["CRH",10.13,11.58],["HGFAC",15.74,9.76],["NTF3",19.3,9.19],["VIP",8.58,8.88],["VEGFC",20.77,8.35],["EDN1",22.48,7.74],["APOC1",3.16,7.52],["S100A6",7.1,7.23],["S100A12",7.48,5.85],["S100A7",12.87,5.97],["KLK13",16.74,5.86],["LOX",24.42,5.85],["DEFA1B",29.42,5.32],["SERPINA12",2.45,5.22],["SERPINB5",2.13,4.65],["TSHB",29.03,4.44]];
const cGreenLabels = [["SPINK6",21.8,6.45],["APOA2",3.23,6.08],["PLAU",21,5.66]];
const dRedLabels = [["NTF3",19.3,5.86],["TXN",11.89,4.8],["INHBA",26.25,3.43],["LGALS1",5.24,3.53],["PYY",9.6,3.37],["LGALS7B",3.35,3.2],["ANXA1,3,5",4.79,2.59],["CTSH",15.15,2.19],["KLK6",20.07,1.9],["SPINK6",23.65,1.74],["CPA3",14.66,1.68]];
const dGreenLabels = [["CTSL",17.3,3.18],["CTSV",14.66,2.84],["DEFB1",34.2,2.48],["KLK7",16.55,2.56],["TIMP2",19.64,2.25],["DEFA1B",29.5,1.76],["CTSB",23.6,1.4],["CFI",19.5,1.15],["SERPINA12",1.34,.35]];
const dDarkLabels = [["ADAMTS17",17.95,1.6]];
const eRedLabels = [["TXN",11.88,4.79],["IGF1",16,4.23],["CTSV",15.4,3.93],["TNXA",3.95,3.65],["NTF4",12.62,3.62],["INHBA",26.18,3.44],["TIMP1",20.06,3.25],["CTSH",15.53,3.12],["CCL27",17.35,2.55],["DEFB4B",27.6,2.43],["CTSA",14.08,2.17],["PI3",25.34,1.73]];
const eGreenLabels = [["KLK5",15.92,3.51],["SERPINA1,3",.84,3.04],["CTSZ",21.59,2.7],["CTSC",19,2.26],["KLK7",17.86,1.88],["SERPINA12",2.94,1.86],["DEFA1B",29,1.81]];

const svgNS = 'http://www.w3.org/2000/svg';
const root = document.getElementById('panels');
const COLOR_YELLOW = '#c0c000', COLOR_PINK = '#dc006c', COLOR_TAN = '#d4a05c';
const COLOR_RED = '#a8282c', COLOR_GREEN = '#7cb648', COLOR_DARK = '#5c8a44';
const AXIS = '#333', LIGHT = '#c4c4c4', DASH = '9 5 3 5';

function makeLine(g, x1, y1, x2, y2, stroke, width, dash, name) {
  const el = document.createElementNS(svgNS, 'line');
  el.setAttribute('x1', x1);
  el.setAttribute('y1', y1);
  el.setAttribute('x2', x2);
  el.setAttribute('y2', y2);
  el.setAttribute('stroke', stroke);
  el.setAttribute('stroke-width', width);
  if (dash) el.setAttribute('stroke-dasharray', dash);
  
  
  g.appendChild(el);
}

function drawDots(g, pts, sx, sy, color, name) {
  pts.forEach(function (p) {
    const c = document.createElementNS(svgNS, 'circle');
    c.setAttribute('cx', sx(p[0]).toFixed(1));
    c.setAttribute('cy', sy(p[1]).toFixed(1));
    c.setAttribute('r', 11);
    c.setAttribute('fill', color);
    
    
    g.appendChild(c);
  });
}

function drawLabels(g, list, sx, sy, color) {
  (list || []).forEach(function (l) {
    const t = document.createElementNS(svgNS, 'text');
    t.setAttribute('x', sx(l[1]).toFixed(1));
    t.setAttribute('y', (sy(l[2]) + 13).toFixed(1));
    t.setAttribute('font-size', 35);
    t.setAttribute('fill', color);
    
    
    t.textContent = l[0];
    g.appendChild(t);
  });
}

function drawTickText(g, text, px, py, anchor, name) {
  const t = document.createElementNS(svgNS, 'text');
  t.setAttribute('transform', 'translate(' + px + ',' + py + ') scale(.88,1)');
  t.setAttribute('text-anchor', anchor);
  t.setAttribute('font-size', 76);
  t.setAttribute('font-weight', 'bold');
  t.setAttribute('fill', '#111');
  
  
  t.textContent = text;
  g.appendChild(t);
}

function drawPanel(p) {
  const g = document.createElementNS(svgNS, 'g');
  
  
  root.appendChild(g);
  const sx = function (v) { return p.x0 + v * p.ux; };
  const sy = function (v) { return p.y0 - v * p.uy; };
  const yTop = p.yTop, yBot = p.yBot;

  makeLine(g, sx(-1), sy(0), sx(41), sy(0), AXIS, 4, null, 'zero-line');
  if (p.topLine !== undefined) makeLine(g, sx(-1), sy(p.topLine), sx(41), sy(p.topLine), AXIS, 4, null, 'top-frame-line');
  if (p.leftAxis) makeLine(g, sx(0), sy(yTop), sx(0), sy(yBot), AXIS, 3.5, null, 'y-axis-line');
  if (p.rightAxis) makeLine(g, sx(40), sy(yTop), sx(40), sy(yBot), AXIS, 3.5, null, 'right-axis-line');

  p.topDark.forEach(function (v) { makeLine(g, sx(v), sy(yTop), sx(v), sy(p.topBase), AXIS, 3, null, 'top-tick'); });
  p.topLight.forEach(function (v) { makeLine(g, sx(v), sy(yTop), sx(v), sy(p.topBase), LIGHT, 3, null, 'top-tick-light'); });
  p.botDark.forEach(function (v) { makeLine(g, sx(v), sy(0), sx(v), sy(yBot), AXIS, 3, null, 'bottom-tick'); });
  p.botLight.forEach(function (v) { makeLine(g, sx(v), sy(0), sx(v), sy(yBot), LIGHT, 3, null, 'bottom-tick-light'); });
  p.rightDark.forEach(function (v) { makeLine(g, sx(40), sy(v), sx(41), sy(v), AXIS, 3, null, 'right-tick'); });
  p.rightLight.forEach(function (v) { makeLine(g, sx(40), sy(v), sx(41), sy(v), LIGHT, 3, null, 'right-tick-light'); });
  (p.leftTicks || []).forEach(function (v) { makeLine(g, sx(-1), sy(v), sx(0), sy(v), AXIS, 3, null, 'left-tick'); });

  drawDots(g, p.yellow, sx, sy, COLOR_YELLOW, 'protein-point-other');
  drawDots(g, p.zeroX.map(function (x) { return [x, 0]; }), sx, sy, COLOR_YELLOW, 'protein-point-zero');
  drawDots(g, p.pink, sx, sy, COLOR_PINK, 'protein-point-highlight');
  drawDots(g, p.tan || [], sx, sy, COLOR_TAN, 'protein-point-tan');

  if (p.median !== undefined) makeLine(g, sx(p.median), p.medianTop, sx(p.median), p.medianBot, '#222', 3.5, null, 'median-line');
  makeLine(g, sx(p.q1), p.q1Top, sx(p.q1), p.q1Bot, '#111', 3, DASH, 'q1-line');
  makeLine(g, sx(p.q3), p.q3Top, sx(p.q3), p.q3Bot, '#111', 3, DASH, 'q3-line');
  makeLine(g, p.hLeft, sy(p.q3y), p.hRight, sy(p.q3y), '#111', 3, DASH, 'q3-horizontal-line');

  p.boxes.forEach(function (b) {
    const x1 = sx(b[0]), y1 = sy(b[1]), x2 = sx(b[2]), y2 = sy(b[3]), sides = b[4];
    if (sides.indexOf('T') >= 0) makeLine(g, x1, y1, x2, y1, LIGHT, 3, null, 'label-box-top-light');
    if (sides.indexOf('R') >= 0) makeLine(g, x2, y1, x2, y2, LIGHT, 3, null, 'label-box-right-light');
    if (sides.indexOf('L') >= 0) makeLine(g, x1, y1, x1, y2, LIGHT, 3, null, 'label-box-left-light');
    if (sides.indexOf('t') >= 0) makeLine(g, x1, y1, x2, y1, '#333', 3.5, null, 'label-box-top');
    if (sides.indexOf('b') >= 0) makeLine(g, x1, y2, x2, y2, '#333', 3.5, null, 'label-box-bottom');
    if (sides.indexOf('l') >= 0) makeLine(g, x1, y1, x1, y2, '#333', 3.5, null, 'label-box-left');
    if (sides.indexOf('r') >= 0) makeLine(g, x2, y1, x2, y2, '#333', 3.5, null, 'label-box-right');
  });

  drawLabels(g, p.red, sx, sy, COLOR_RED);
  drawLabels(g, p.green, sx, sy, COLOR_GREEN);
  drawLabels(g, p.dark, sx, sy, COLOR_DARK);

  xTickLabels.forEach(function (v) { drawTickText(g, String(v), sx(v), p.xLabelY, 'middle', 'x-tick-label'); });
  p.yTicks.forEach(function (v) { drawTickText(g, String(v), p.yLabelX, sy(v) + 27, 'end', 'y-tick-label'); });
}

drawPanel({id:'a', x0:1157, ux:34.1, y0:1029, uy:152, yTop:6.24, yBot:-.22, topBase:6, leftAxis:true, rightAxis:false,
  topDark:[20], topLight:[30], botDark:[10,20], botLight:[30], rightDark:[2], rightLight:[4],
  yellow:aYellow.concat(aYellowDense), zeroX:aZeroX, pink:aPink, median:11.85, medianTop:18, medianBot:1100, q1:9.68, q1Top:108, q1Bot:1100, q3:15.37, q3Top:108, q3Bot:1100, q3y:1.335, hLeft:1107, hRight:2560,
  boxes:[[3.52,1.22,10.06,.845,'tlbr']], red:aRedLabels, green:aGreenLabels, dark:aDarkLabels, yTicks:aYTickLabels, xLabelY:1142, yLabelX:1113});

drawPanel({id:'b', x0:227, ux:34.15, y0:2223, uy:91.6, yTop:10.38, yBot:-.39, topBase:10, leftAxis:true, rightAxis:true,
  topDark:[30], topLight:[], botDark:[10,20,30], botLight:[], rightDark:[4,2], rightLight:[6],
  yellow:bYellow, zeroX:bZeroX, pink:bPink, q1:9.9, q1Top:1269, q1Bot:2270, q3:15.34, q3Top:1269, q3Bot:2301, q3y:2.52, hLeft:168, hRight:1631,
  boxes:[[3.52,2.23,10.25,1.59,'tlbr'],[27.75,.71,32.5,.08,'TRlb']], red:bRedLabels, green:bGreenLabels, dark:bDarkLabels, yTicks:bYTickLabels, xLabelY:2335, yLabelX:182});

drawPanel({id:'c', x0:1965.5, ux:34.09, y0:2223, uy:60.8, yTop:15.55, yBot:-.6, topBase:15, topLine:15, leftAxis:false, rightAxis:true,
  topDark:[20,30], topLight:[10], botDark:[30], botLight:[10,20], rightDark:[10,5], rightLight:[], leftTicks:[10,5],
  yellow:cYellow.concat(cYellowDense), zeroX:cZeroX, pink:cPink, tan:cTan, q1:9.64, q1Top:1280, q1Bot:2259, q3:15.37, q3Top:1280, q3Bot:2298, q3y:4.44, hLeft:1869, hRight:3375,
  boxes:[[28.65,5.72,33.84,4.75,'tlbr']], red:cRedLabels, green:cGreenLabels, dark:[], yTicks:cYTickLabels, xLabelY:2335, yLabelX:1924});

drawPanel({id:'d', x0:230, ux:34.1, y0:3388, uy:114.1, yTop:8.3, yBot:-.3, topBase:8, topLine:8, leftAxis:true, rightAxis:false,
  topDark:[10,20], topLight:[30], botDark:[10], botLight:[20,30], rightDark:[2], rightLight:[6],
  yellow:dYellow.concat(dYellowDense), zeroX:dZeroX, pink:dPink, tan:dTan, median:11.82, medianTop:2374, medianBot:3460, q1:9.48, q1Top:2374, q1Bot:3460, q3:15.34, q3Top:2374, q3Bot:3460, q3y:1.25, hLeft:166, hRight:1637,
  boxes:[[1,.56,7.75,0,'Ltr'],[28.9,1.98,34.1,1.46,'tlr']], red:dRedLabels, green:dGreenLabels, dark:dDarkLabels, yTicks:dYTickLabels, xLabelY:3500, yLabelX:183});

drawPanel({id:'e', x0:1983, ux:34.15, y0:3388, uy:152.2, yTop:6.22, yBot:-.23, topBase:6, topLine:6, leftAxis:true, rightAxis:false,
  topDark:[10,20], topLight:[30], botDark:[10], botLight:[20,30], rightDark:[4,2], rightLight:[],
  yellow:eYellow.concat(eYellowDense), zeroX:eZeroX, pink:ePink, median:11.83, medianTop:2374, medianBot:3460, q1:9.63, q1Top:2475, q1Bot:3435, q3:15.34, q3Top:2475, q3Bot:3460, q3y:1.655, hLeft:1933, hRight:3374,
  boxes:[[2.65,2.02,9.39,1.65,'tlr'],[28.3,2.04,33.4,1.65,'br']], red:eRedLabels, green:eGreenLabels, dark:[], yTicks:eYTickLabels, xLabelY:3500, yLabelX:1939});
</script>
</body>
</html>
